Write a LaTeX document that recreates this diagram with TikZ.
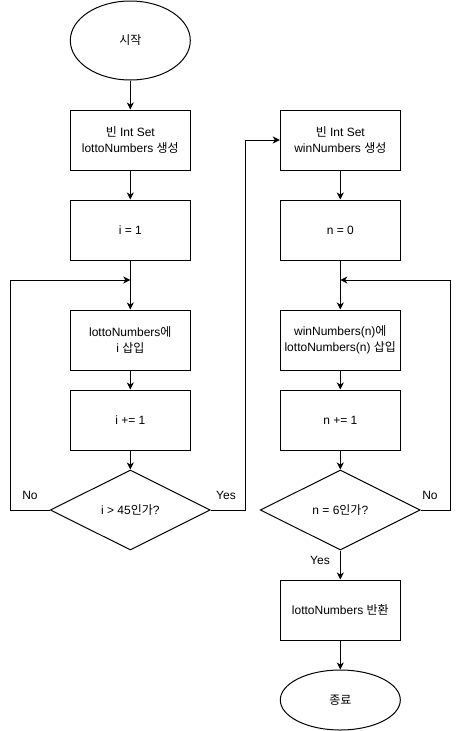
\documentclass[tikz,border=0pt]{standalone}
\usepackage{fontspec}
\setmainfont{Liberation Sans}
\newfontfamily\kr{Noto Sans CJK KR}
\usetikzlibrary{arrows.meta,shapes.geometric}

\begin{document}
\begin{tikzpicture}[x=1pt,y=-1pt,>={Stealth[length=7pt,width=7pt,inset=2pt]},line width=1pt,
  font=\fontsize{12}{15.5}\selectfont,
  term/.style={draw,ellipse,minimum width=120pt,inner sep=0pt},
  proc/.style={draw,rectangle,minimum width=120pt,minimum height=60pt,align=center,inner sep=0pt},
  cond/.style={draw,diamond,minimum width=160pt,minimum height=80pt,inner sep=0pt}]
\useasboundingbox (0,0) rectangle (461,731);
% left column
\node[term,minimum height=79pt] (start) at (130.3,40.5) {{\kr 시작}};
\node[proc] (lset) at (130.3,140) {{\kr 빈} Int Set\\lottoNumbers {\kr 생성}};
\node[proc] (iinit) at (130.3,230) {i = 1};
\node[proc] (lins) at (130.3,340) {lottoNumbers{\kr 에}\\i {\kr 삽입}};
\node[proc] (iinc) at (130.3,420) {i += 1};
\node[cond] (icheck) at (130.3,510) {i > 45{\kr 인가}?};
% right column
\node[proc] (wset) at (340.3,140) {{\kr 빈} Int Set\\winNumbers {\kr 생성}};
\node[proc] (ninit) at (340.3,230) {n = 0};
\node[proc] (wins) at (340.3,340) {winNumbers(n){\kr 에}\\lottoNumbers(n) {\kr 삽입}};
\node[proc] (ninc) at (340.3,420) {n += 1};
\node[cond] (ncheck) at (340.3,510) {n = 6{\kr 인가}?};
\node[proc] (ret) at (340.3,610) {lottoNumbers {\kr 반환}};
\node[term,minimum height=60pt] (stop) at (340.3,700) {{\kr 종료}};
% loop points
\coordinate (ljoin) at (130.3,280);
\coordinate (lcorner) at (10,280);
\coordinate (ycorner) at (245.7,140);
\coordinate (rjoin) at (340.3,280);
\coordinate (rcorner) at (450,280);
% arrows
\draw[->] (start) -- (lset);
\draw[->] (lset) -- (iinit);
\draw[->] (iinit) -- (lins);
\draw[->] (lins) -- (iinc);
\draw[->] (iinc) -- (icheck);
\draw[->] (icheck.west) -| (lcorner) -- (ljoin);
\draw[->] (icheck.east) -| (ycorner) -- (wset.west);
\draw[->] (wset) -- (ninit);
\draw[->] (ninit) -- (wins);
\draw[->] (wins) -- (ninc);
\draw[->] (ninc) -- (ncheck);
\draw[->] (ncheck.east) -| (rcorner) -- (rjoin);
\draw[->] (ncheck) -- (ret);
\draw[->] (ret) -- (stop);
% labels
\node (lno) at (30,495) {No};
\node (lyes) at (226,495) {Yes};
\node (rno) at (430,495) {No};
\node (ryes) at (320,560) {Yes};
\end{tikzpicture}
\end{document}
